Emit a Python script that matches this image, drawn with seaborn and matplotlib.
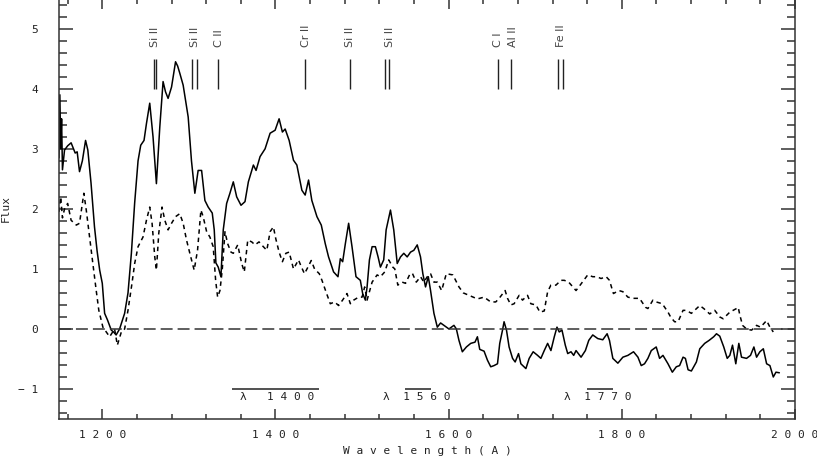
import pandas as pd
import seaborn as sns
import matplotlib.pyplot as plt
from matplotlib.ticker import MultipleLocator, FuncFormatter

# solid spectrum
solid_wave = [1150, 1151, 1152, 1153, 1154, 1156.4, 1160, 1164, 1168.7, 1171, 1173.7, 1177, 1180.7,
              1183.3, 1187, 1191, 1194, 1197, 1200, 1202.7, 1206, 1210.4, 1213, 1216, 1220, 1225.8,
              1229.7, 1233.6, 1237.4, 1241.3, 1244.4, 1248.2, 1251, 1254.8, 1258.6, 1262.5, 1266.4,
              1270.2, 1273, 1276, 1280, 1284.6, 1287, 1289.5, 1293.4, 1299.2, 1303, 1306.9, 1310.7,
              1314.7, 1318.5, 1322.3, 1327, 1329.3, 1331.2, 1333.9, 1337, 1339.7, 1343.6, 1347.4,
              1351.3, 1355.2, 1360.2, 1364.8, 1368.7, 1374.5, 1377.6, 1382.2, 1388, 1393.8, 1399.6,
              1404.2, 1408, 1411.2, 1415.8, 1420.8, 1424.7, 1430.5, 1434.3, 1438.2, 1442, 1447.9,
              1452.9, 1457.5, 1461.3, 1467.1, 1472.2, 1474.9, 1477.6, 1480.7, 1484.5, 1488.4, 1493,
              1498, 1500.7, 1503.8, 1505.8, 1508.5, 1511.6, 1515.4, 1518.5, 1521.2, 1525, 1527.8,
              1532.8, 1536.6, 1540.6, 1544.4, 1548.2, 1552.1, 1556, 1559.8, 1563.7, 1567.5, 1570.2,
              1573.3, 1576.5, 1579.1, 1583, 1586.9, 1590.7, 1594.6, 1600.3, 1606.1, 1608.9, 1611.9,
              1615.8, 1620.5, 1625.5, 1630.4, 1633.2, 1635.9, 1640.9, 1644.8, 1648.6, 1652.4, 1656.4,
              1659, 1662.2, 1664, 1666.8, 1669.8, 1673.8, 1676.8, 1680.7, 1683.4, 1689.2, 1693,
              1697.6, 1702.7, 1706.5, 1710.4, 1714.3, 1718.1, 1722, 1725.1, 1727.7, 1730.9, 1734.7,
              1737.5, 1741.3, 1744.4, 1747.1, 1752.9, 1757.9, 1761.8, 1766.4, 1772.2, 1778, 1783,
              1785.7, 1789.6, 1795.4, 1801.2, 1807, 1813.5, 1818.6, 1822.4, 1826.2, 1830.1, 1834,
              1839.7, 1843.6, 1847.5, 1853.3, 1858.3, 1862.9, 1866.7, 1870.7, 1873.4, 1876.5, 1880.3,
              1886.1, 1890, 1895.7, 1900.8, 1906.1, 1909.3, 1913.1, 1917.7, 1921.7, 1924.7, 1927.8,
              1931.6, 1935.1, 1938.2, 1944, 1948.6, 1952.5, 1955.6, 1959.4, 1963.4, 1967.2, 1971,
              1974.9, 1978, 1981.9]
solid_flux = [2.85, 3.9, 3.0, 3.5, 2.65, 2.98, 3.05, 3.1, 2.93, 2.95, 2.62, 2.8, 3.14,
              2.98, 2.43, 1.7, 1.3, 0.98, 0.76, 0.26, 0.15, -0.02, -0.05, -0.1, 0.0, 0.26,
              0.6, 1.26, 2.1, 2.8, 3.06, 3.14, 3.42, 3.76, 3.2, 2.42, 3.36,
              4.12, 3.95, 3.84, 4.03, 4.45, 4.38, 4.26, 4.06, 3.53, 2.8, 2.26, 2.64,
              2.64, 2.14, 2.03, 1.93, 1.65, 1.1, 1.03, 0.87, 1.65, 2.09, 2.26,
              2.45, 2.2, 2.06, 2.12, 2.45, 2.73, 2.64, 2.87, 3.0, 3.26, 3.31,
              3.5, 3.28, 3.33, 3.14, 2.81, 2.73, 2.31, 2.23, 2.48, 2.14, 1.87,
              1.73, 1.42, 1.2, 0.95, 0.87, 1.17, 1.12, 1.42, 1.76, 1.37, 0.87,
              0.81, 0.59, 0.48, 0.7, 1.15, 1.37, 1.37, 1.2, 1.03, 1.15, 1.65,
              1.98, 1.65, 1.09, 1.2, 1.26, 1.2, 1.28, 1.31, 1.4, 1.2, 0.92,
              0.7, 0.87, 0.64, 0.26, 0.03, 0.1, 0.06, 0.0, 0.06, 0.0, -0.19,
              -0.38, -0.3, -0.24, -0.22, -0.13, -0.34, -0.37, -0.52, -0.63, -0.61, -0.58,
              -0.24, -0.02, 0.12, -0.02, -0.3, -0.49, -0.55, -0.41, -0.58, -0.66, -0.49,
              -0.38, -0.44, -0.49, -0.36, -0.24, -0.36, -0.13, 0.03, -0.05, -0.02, -0.27,
              -0.41, -0.38, -0.44, -0.36, -0.47, -0.36, -0.19, -0.1, -0.16, -0.18, -0.08,
              -0.19, -0.49, -0.57, -0.47, -0.44, -0.38, -0.47, -0.61, -0.58, -0.49, -0.36,
              -0.3, -0.49, -0.44, -0.58, -0.72, -0.63, -0.61, -0.47, -0.49, -0.68, -0.7,
              -0.55, -0.33, -0.24, -0.19, -0.13, -0.08, -0.12, -0.3, -0.49, -0.44, -0.27,
              -0.58, -0.24, -0.47, -0.49, -0.44, -0.3, -0.47, -0.38, -0.33, -0.58, -0.61,
              -0.8, -0.72, -0.73]

# dashed spectrum
dashed_wave = [1150, 1152, 1154, 1156.4, 1160, 1164, 1170, 1173.7, 1178.7, 1181.5, 1185.3, 1189.1,
               1193, 1196, 1200.7, 1204.6, 1208.5, 1214.2, 1217.4, 1222, 1225.8, 1229.7, 1234.3,
               1237.4, 1241.3, 1247, 1251, 1254.8, 1257.5, 1260.6, 1262.5, 1265.2, 1269, 1272.2,
               1276, 1280, 1284.6, 1289.5, 1293.4, 1297.3, 1301.1, 1306.1, 1310, 1313.9, 1316.5,
               1320.5, 1324.3, 1328.1, 1330.9, 1333.2, 1335.9, 1338.5, 1341.7, 1344.8, 1348.6,
               1351.3, 1356.4, 1361, 1364, 1368, 1372.6, 1376.4, 1381, 1386, 1390, 1393.8, 1397.6,
               1400.4, 1404.2, 1408, 1412, 1415.8, 1420.8, 1426.6, 1429.7, 1433.5, 1437.5, 1441.3,
               1445.1, 1450.6, 1453.7, 1458.3, 1463.3, 1468.3, 1472.9, 1477.5, 1482.6, 1486.5,
               1490.3, 1496, 1500, 1503, 1505.8, 1511.6, 1517.4, 1521.2, 1526.2, 1530.8, 1535.5,
               1537.8, 1541.3, 1546.3, 1550.2, 1554.8, 1558, 1562.6, 1567.5, 1571.4, 1575.3, 1579.1,
               1583, 1586.9, 1591.9, 1597.3, 1604.9, 1611.9, 1617, 1623.5, 1633.2, 1640.9, 1648.6,
               1654.4, 1658.3, 1665.2, 1668, 1671.8, 1675.6, 1681.4, 1685.3, 1691.1, 1694.9, 1700.8,
               1705.4, 1710.4, 1714.3, 1718.1, 1723.9, 1729.7, 1733.5, 1738.6, 1747.1, 1752.9,
               1760.6, 1766.4, 1771.1, 1776, 1781.9, 1785.7, 1790.3, 1796.6, 1801.2, 1807, 1812.8,
               1820.4, 1827.4, 1830.1, 1835.9, 1839.7, 1846.7, 1853.3, 1856.3, 1860.9, 1864.9,
               1870.7, 1874.5, 1880.3, 1890, 1894.6, 1901.5, 1907.3, 1913.1, 1917, 1924.7, 1932.4,
               1934.4, 1936.3, 1939.4, 1944, 1949.8, 1955.6, 1960.2, 1967.2, 1971, 1974.9]
dashed_flux = [1.95, 2.2, 1.85, 2.0, 2.09, 1.81, 1.73, 1.76, 2.26, 1.98, 1.53, 1.09,
               0.64, 0.31, 0.03, -0.05, -0.13, 0.0, -0.27, -0.05, 0.0, 0.31, 0.76,
               1.09, 1.37, 1.53, 1.81, 2.03, 1.76, 1.2, 0.98, 1.59, 2.03, 1.81,
               1.65, 1.76, 1.87, 1.92, 1.76, 1.48, 1.26, 0.98, 1.31, 1.98, 1.87,
               1.62, 1.53, 1.37, 0.81, 0.53, 0.64, 0.98, 1.62, 1.42, 1.28,
               1.26, 1.4, 1.09, 0.95, 1.48, 1.45, 1.4, 1.45, 1.37, 1.31, 1.62, 1.7,
               1.5, 1.28, 1.12, 1.26, 1.28, 1.0, 1.15, 1.04, 0.92, 1.03, 1.14,
               1.0, 0.92, 0.81, 0.62, 0.42, 0.45, 0.39, 0.48, 0.59, 0.42,
               0.48, 0.53, 0.53, 0.7, 0.48, 0.78, 0.9, 0.87, 0.95, 1.15, 1.03,
               1.0, 0.73, 0.78, 0.76, 0.9, 0.93, 0.78, 0.87, 0.78, 0.87, 0.92,
               0.78, 0.78, 0.64, 0.92, 0.9, 0.7, 0.6, 0.56, 0.5, 0.53, 0.45,
               0.45, 0.51, 0.64, 0.51, 0.4, 0.42, 0.56, 0.48, 0.56, 0.42, 0.4,
               0.28, 0.3, 0.62, 0.73, 0.73, 0.81, 0.81, 0.78, 0.64, 0.75,
               0.9, 0.87, 0.87, 0.84, 0.87, 0.81, 0.59, 0.64, 0.62, 0.53, 0.51,
               0.51, 0.36, 0.34, 0.48, 0.45, 0.42, 0.28, 0.2, 0.12, 0.12,
               0.31, 0.31, 0.26, 0.39, 0.34, 0.25, 0.31, 0.2, 0.17, 0.28, 0.34,
               0.36, 0.23, 0.06, 0.0, -0.02, 0.06, 0.03, 0.14, 0.03, -0.05]

# line identifications
line_waves = [1259.5, 1262.5, 1304, 1309, 1334, 1434, 1485.5, 1527, 1531, 1657.5, 1672, 1726, 1732]
id_waves = [1261, 1306.5, 1335, 1435, 1486.5, 1532, 1657.5, 1674.5, 1730]
id_names = ['Si II', 'Si II', 'C II', 'Cr II', 'Si II', 'Si II', 'C I', 'Al II', 'Fe II']

# continuum windows
win_start = [1350, 1550, 1760]
win_end = [1450, 1580, 1790]
win_text = ['λ   1 4 0 0', 'λ  1 5 6 0', 'λ  1 7 7 0']
win_text_x = [1359, 1524.5, 1733]

sns.set_style('ticks')
plt.rcParams['font.family'] = ['DejaVu Sans Mono', 'DejaVu Sans']
plt.rcParams['lines.scale_dashes'] = False

ink = '#222222'
fig = plt.figure(figsize=(8.17, 4.59), dpi=100)
ax = fig.add_axes([0.0722, 0.0871, 0.9009, 0.9157])

solid = pd.DataFrame({'wave': solid_wave, 'flux': solid_flux})
dashed = pd.DataFrame({'wave': dashed_wave, 'flux': dashed_flux})
sns.lineplot(data=solid, x='wave', y='flux', ax=ax, color='black', lw=1.1, estimator=None)
sns.lineplot(data=dashed, x='wave', y='flux', ax=ax, color='black', lw=1.1, estimator=None,
             linestyle=(0, (3.2, 2.8)))
ax.axhline(0, color='#333333', lw=1.1, linestyle=(0, (8.6, 3.6)))

ax.vlines(line_waves, 4.0, 4.5, color=ink, lw=1.0)
for w, name in zip(id_waves, id_names):
    ax.text(w, 4.69, name, rotation=90, ha='center', va='bottom', fontsize=8,
            color='#444444', family=['DejaVu Sans'])

ax.hlines([-1] * len(win_start), win_start, win_end, color=ink, lw=1.1)
for x, t in zip(win_text_x, win_text):
    ax.text(x, -1.14, t, ha='left', va='center', fontsize=8, color=ink)

ax.set_xlim(1150, 2000)
ax.set_ylim(-1.5, 5.5)
ax.xaxis.set_major_locator(MultipleLocator(200))
ax.xaxis.set_minor_locator(MultipleLocator(40))
ax.yaxis.set_major_locator(MultipleLocator(1))
ax.yaxis.set_minor_locator(MultipleLocator(0.2))
ax.xaxis.set_major_formatter(FuncFormatter(lambda v, p: ' '.join(str(int(round(v))))))
ax.yaxis.set_major_formatter(FuncFormatter(
    lambda v, p: ' '.join(str(int(round(v)))).replace('-', '\u2212')))

for s in ax.spines.values():
    s.set_color('#333333')
    s.set_linewidth(1.1)
ax.tick_params(which='both', direction='in', top=True, right=True, color='#333333',
               width=1.1, labelsize=8, labelcolor=ink)
ax.tick_params(axis='x', which='major', length=7.2, pad=8)
ax.tick_params(axis='x', which='minor', length=3.6)
ax.tick_params(axis='y', which='major', length=10, pad=15)
ax.tick_params(axis='y', which='minor', length=5.5)

ax.set_xlabel('W a v e l e n g t h ( A )', fontsize=8, color=ink)
ax.xaxis.set_label_coords(0.5, -0.065)
ax.set_ylabel('Flux', fontsize=8, color=ink)
ax.yaxis.set_label_coords(-0.0655, 0.5)

fig.savefig('out.png', dpi=100)
